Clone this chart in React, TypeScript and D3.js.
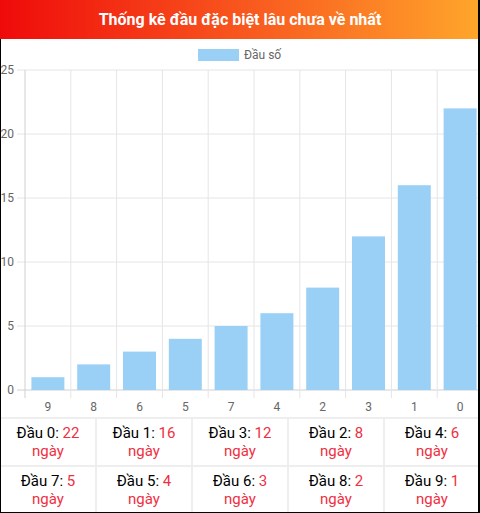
import React, { useEffect } from "react";
import * as d3 from "d3";

const categories = ["9", "8", "6", "5", "7", "4", "2", "3", "1", "0"];
const values = [1, 2, 3, 4, 5, 6, 8, 12, 16, 22];
const yTicks = [0, 5, 10, 15, 20, 25];
const tableDigits = ["0", "1", "3", "2", "4", "7", "5", "6", "8", "9"];
const tableDays = [22, 16, 12, 8, 6, 5, 4, 3, 2, 1];
const title = "Thống kê đầu đặc biệt lâu chưa về nhất";
const legendLabel = "Đầu số";

const W = 480;
const H = 513;
const FONT = "Roboto, 'Noto Sans', sans-serif";

export default function App() {
  useEffect(() => {
    document.body.style.margin = "0";
  }, []);

  const x = d3
    .scaleBand<string>()
    .domain(categories)
    .range([25, 483])
    .paddingInner(0.28)
    .paddingOuter(0.14);
  const step = x.step();
  const left = 25;
  const y = d3.scaleLinear().domain([0, 25]).range([390, 70]);

  const gridColor = "#e5e5e5";
  const axisColor = "#d0d0d0";
  const red = "#f0303f";

  const colW = 96;
  const rows = [0, 1];
  const rowTop = [419, 467];
  const rowH = [47, 46];

  return (
    <svg width={W} height={H} style={{ display: "block" }} fontFamily={FONT}>
      <defs>
        <linearGradient id="hdr" x1="0" x2="1" y1="0" y2="0">
          <stop offset="0" stopColor="#ef0a0a" />
          <stop offset="0.5" stopColor="#f8561e" />
          <stop offset="1" stopColor="#ffa62b" />
        </linearGradient>
        <clipPath id="clip">
          <rect x={0} y={0} width={W} height={H} />
        </clipPath>
      </defs>
      <rect x={0} y={0} width={W} height={H} fill="#fff" />
      <rect x={0} y={0} width={W} height={39} fill="url(#hdr)" />
      <text x={240} y={25} textAnchor="middle" fill="#fff" fontWeight="bold" fontSize={16}>
        {title}
      </text>

      {/* legend */}
      <rect x={198} y={49} width={41} height={12} fill="#9ad0f5" />
      <text x={244} y={59} fill="#666" fontSize={12}>
        {legendLabel}
      </text>

      <g clipPath="url(#clip)">
        {/* horizontal grid */}
        {yTicks.map((t) => (
          <line
            key={"h" + t}
            x1={17}
            x2={483}
            y1={y(t)}
            y2={y(t)}
            stroke={t === 0 ? axisColor : gridColor}
            strokeWidth={1}
          />
        ))}
        {/* vertical grid */}
        {categories.map((c, i) => (
          <line
            key={"v" + c}
            x1={left + i * step}
            x2={left + i * step}
            y1={70}
            y2={398}
            stroke={i === 0 ? axisColor : gridColor}
            strokeWidth={1}
          />
        ))}
        {/* bars */}
        {categories.map((c, i) => (
          <rect
            key={"b" + c}
            x={x(c)!}
            y={y(values[i])}
            width={x.bandwidth()}
            height={y(0) - y(values[i])}
            fill="#9ad0f5"
          />
        ))}
        {/* x labels */}
        {categories.map((c) => (
          <text
            key={"xl" + c}
            x={x(c)! + x.bandwidth() / 2}
            y={411}
            textAnchor="middle"
            fill="#666"
            fontSize={12}
          >
            {c}
          </text>
        ))}
      </g>
      {/* y labels */}
      {yTicks.map((t) => (
        <text key={"yl" + t} x={14} y={y(t) + 4} textAnchor="end" fill="#666" fontSize={12}>
          {t}
        </text>
      ))}

      {/* table */}
      <rect x={0} y={417} width={W} height={2} fill="#eeeeee" />
      <rect x={0} y={465} width={W} height={2} fill="#eeeeee" />
      {[1, 2, 3, 4].map((k) => (
        <rect key={"cs" + k} x={k * colW - 1} y={417} width={2} height={H - 417} fill="#eeeeee" />
      ))}
      {rows.map((r) =>
        [0, 1, 2, 3, 4].map((c) => {
          const idx = r * 5 + c;
          const cx = c * colW + colW / 2;
          return (
            <g key={"cell" + idx}>
              <text x={cx} y={rowTop[r] + 19} textAnchor="middle" fontSize={15}>
                <tspan fill="#000">{`Đầu ${tableDigits[idx]}: `}</tspan>
                <tspan fill={red}>{tableDays[idx]}</tspan>
              </text>
              <text x={cx} y={rowTop[r] + 37} textAnchor="middle" fontSize={15} fill={red}>
                ngày
              </text>
            </g>
          );
        })
      )}

      {/* frame */}
      <rect x={0} y={39} width={1} height={H - 39} fill="#000" />
      <rect x={478} y={0} width={2} height={H} fill="#000" />
      <rect x={0} y={H - 1} width={W} height={1} fill="#000" />
    </svg>
  );
}
